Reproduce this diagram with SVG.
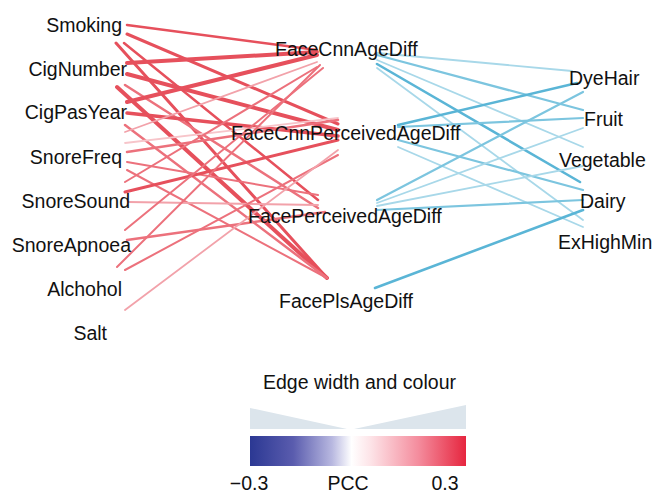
<svg xmlns="http://www.w3.org/2000/svg" width="667" height="497" viewBox="0 0 667 497">
<style>
text{font-family:"Liberation Sans",Arial,sans-serif;font-size:19.5px;fill:#111}
.e{fill:none;stroke-linecap:round}
.r1{stroke:#e6505c}
.r2{stroke:#ec717c}
.r3{stroke:#f2a2aa}
.r4{stroke:#f7c5ca}
.b1{stroke:#5ab5d6}
.b2{stroke:#7cc5df}
.b3{stroke:#a8d8e9}
</style>
<defs>
<linearGradient id="pcc" x1="0" x2="1" y1="0" y2="0">
<stop offset="0" stop-color="#2b3893"/>
<stop offset="0.2" stop-color="#5a5cae"/>
<stop offset="0.38" stop-color="#b8b8e0"/>
<stop offset="0.47" stop-color="#ffffff"/>
<stop offset="0.56" stop-color="#fde3e7"/>
<stop offset="0.78" stop-color="#f48c9d"/>
<stop offset="1" stop-color="#e6263f"/>
</linearGradient>
</defs>
<g id="connectors">
<line class="e r1" stroke-width="2.5" x1="127" y1="25" x2="317" y2="50"/>
<line class="e r1" stroke-width="3" x1="127" y1="34" x2="338" y2="124"/>
<line class="e r1" stroke-width="3" x1="116" y1="43" x2="327" y2="278"/>
<line class="e r1" stroke-width="2.5" x1="124" y1="43" x2="318" y2="200"/>
<line class="e r1" stroke-width="4" x1="127" y1="63" x2="317" y2="52"/>
<line class="e r1" stroke-width="4" x1="127" y1="74" x2="338" y2="130"/>
<line class="e r1" stroke-width="4" x1="117" y1="87" x2="327" y2="278"/>
<line class="e r2" stroke-width="2.5" x1="125" y1="85" x2="318" y2="208"/>
<line class="e r1" stroke-width="4" x1="127" y1="102" x2="317" y2="55"/>
<line class="e r1" stroke-width="3.5" x1="127" y1="113" x2="338" y2="136"/>
<line class="e r2" stroke-width="2.5" x1="125" y1="125" x2="327" y2="278"/>
<line class="e r3" stroke-width="1.8" x1="125" y1="132" x2="317" y2="62"/>
<line class="e r4" stroke-width="1.8" x1="125" y1="143" x2="338" y2="118"/>
<line class="e r2" stroke-width="2.5" x1="127" y1="152" x2="338" y2="120"/>
<line class="e r2" stroke-width="2" x1="127" y1="162" x2="318" y2="195"/>
<line class="e r2" stroke-width="2" x1="127" y1="170" x2="327" y2="278"/>
<line class="e r2" stroke-width="2" x1="125" y1="182" x2="317" y2="67"/>
<line class="e r1" stroke-width="3" x1="125" y1="192" x2="338" y2="140"/>
<line class="e r3" stroke-width="2" x1="128" y1="202" x2="318" y2="205"/>
<line class="e r2" stroke-width="2" x1="125" y1="230" x2="323" y2="68"/>
<line class="e r2" stroke-width="2.5" x1="127" y1="240" x2="325" y2="212"/>
<line class="e r2" stroke-width="2" x1="117" y1="267" x2="320" y2="65"/>
<line class="e r2" stroke-width="2" x1="125" y1="270" x2="338" y2="155"/>
<line class="e r3" stroke-width="1.8" x1="125" y1="310" x2="338" y2="150"/>
<line class="e b3" stroke-width="1.8" x1="377" y1="53" x2="572" y2="71"/>
<line class="e b2" stroke-width="2.2" x1="377" y1="55" x2="583" y2="110"/>
<line class="e b3" stroke-width="1.8" x1="377" y1="60" x2="583" y2="147"/>
<line class="e b1" stroke-width="2.6" x1="377" y1="64" x2="580" y2="182"/>
<line class="e b3" stroke-width="1.8" x1="377" y1="68" x2="583" y2="220"/>
<line class="e b1" stroke-width="2.5" x1="398" y1="125" x2="577" y2="83"/>
<line class="e b2" stroke-width="2.2" x1="398" y1="127" x2="583" y2="118"/>
<line class="e b2" stroke-width="2.2" x1="398" y1="140" x2="583" y2="190"/>
<line class="e b3" stroke-width="1.8" x1="398" y1="147" x2="583" y2="227"/>
<line class="e b2" stroke-width="2.2" x1="377" y1="200" x2="583" y2="92"/>
<line class="e b3" stroke-width="1.8" x1="377" y1="203" x2="583" y2="128"/>
<line class="e b3" stroke-width="1.8" x1="377" y1="206" x2="583" y2="166"/>
<line class="e b2" stroke-width="2.2" x1="377" y1="210" x2="583" y2="200"/>
<line class="e b1" stroke-width="2.6" x1="375" y1="288" x2="583" y2="210"/>
</g>
<g id="n-smoking"><text x="122" y="32" text-anchor="end">Smoking</text></g>
<g id="n-cignumber"><text x="127" y="76" text-anchor="end">CigNumber</text></g>
<g id="n-cigpasyear"><text x="127" y="119" text-anchor="end">CigPasYear</text></g>
<g id="n-snorefreq"><text x="122" y="164" text-anchor="end">SnoreFreq</text></g>
<g id="n-snoresound"><text x="130" y="208" text-anchor="end">SnoreSound</text></g>
<g id="n-snoreapnoea"><text x="131" y="252" text-anchor="end">SnoreApnoea</text></g>
<g id="n-alchohol"><text x="122" y="296" text-anchor="end">Alchohol</text></g>
<g id="n-salt"><text x="107" y="340" text-anchor="end">Salt</text></g>
<g id="n-facecnnagediff"><text x="275" y="56">FaceCnnAgeDiff</text></g>
<g id="n-facecnnperceivedagediff"><text x="231" y="140">FaceCnnPerceivedAgeDiff</text></g>
<g id="n-faceperceivedagediff"><text x="248" y="223">FacePerceivedAgeDiff</text></g>
<g id="n-faceplsagediff"><text x="279" y="308">FacePlsAgeDiff</text></g>
<g id="n-dyehair"><text x="569" y="85">DyeHair</text></g>
<g id="n-fruit"><text x="584" y="126">Fruit</text></g>
<g id="n-vegetable"><text x="559" y="167">Vegetable</text></g>
<g id="n-dairy"><text x="580" y="208">Dairy</text></g>
<g id="n-exhighmin"><text x="558" y="249">ExHighMin</text></g>
<g id="legend">
<text x="359.5" y="389" text-anchor="middle">Edge width and colour</text>
<polygon points="250,408 347,429 250,429" fill="#dce5ec"/>
<polygon points="354,429 466,405 466,429" fill="#dce5ec"/>
<rect x="250" y="436" width="216" height="30" fill="url(#pcc)"/>
<text x="249" y="490" text-anchor="middle">−0.3</text>
<text x="348" y="490" text-anchor="middle">PCC</text>
<text x="445" y="490" text-anchor="middle">0.3</text>
</g>
</svg>
